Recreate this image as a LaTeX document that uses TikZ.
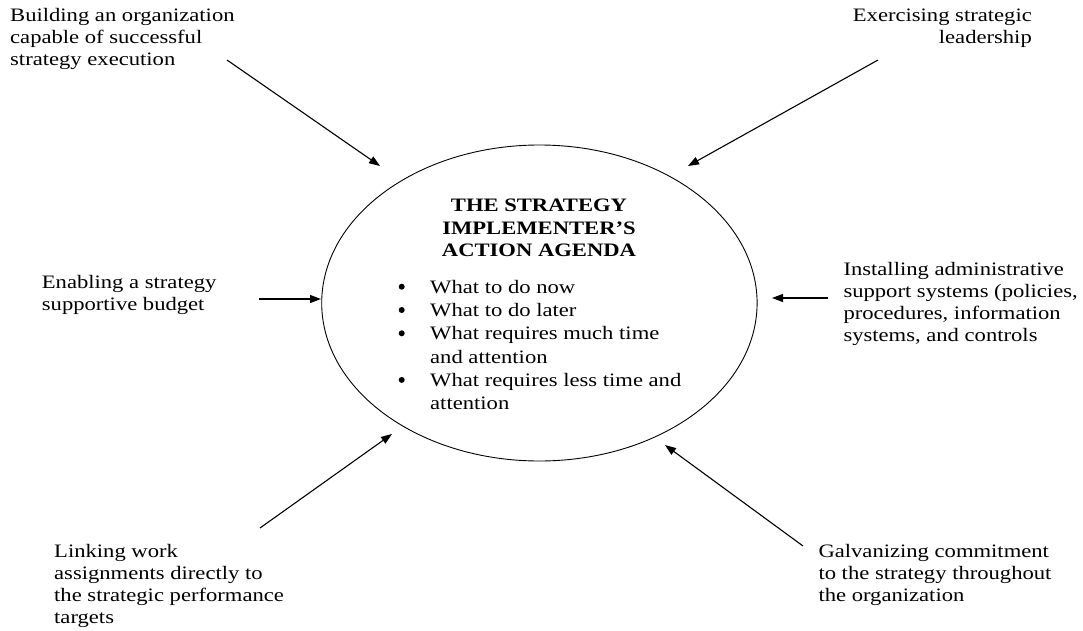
\documentclass[tikz,border=0pt]{standalone}
\usepackage{fontspec}
\setmainfont[FakeStretch=1.19]{Liberation Serif}
\usetikzlibrary{arrows.meta,shapes.geometric}
% multi-line blocks whose baseline is that of the first line
\newcommand\leftlines[1]{\begin{tabular}[t]{@{}l@{}}#1\end{tabular}}
\newcommand\rightlines[1]{\begin{tabular}[t]{@{}r@{}}#1\end{tabular}}
\newcommand\centrelines[1]{\begin{tabular}[t]{@{}c@{}}#1\end{tabular}}
\begin{document}
\begin{tikzpicture}[x=1pt,y=-1pt,
  outer text/.style={inner sep=0pt, font=\fontsize{19}{22}\selectfont},
  feed/.style={line width=1.1pt, -{Triangle[length=11pt,width=8pt]}},
  hub/.style={draw, ellipse, line width=0.9pt, inner sep=0pt,
              minimum width=435.4pt, minimum height=316pt},
  bulletdot/.style={fill=black}]
\useasboundingbox (0,0) rectangle (1083,631);

% central agenda
\node[hub] (agenda) at (539.4,303) {};
\node[inner sep=0pt, anchor=base, font=\bfseries\fontsize{19}{22.5}\selectfont]
  (title) at (539,211.7) {\centrelines{THE STRATEGY\\IMPLEMENTER’S\\ACTION AGENDA}};
\node[inner sep=0pt, anchor=base west, font=\fontsize{19}{23.3}\selectfont]
  (items) at (430,293.3) {\leftlines{What to do now\\What to do later\\
    What requires much time\\and attention\\What requires less time and\\attention}};
% list bullets, one per item (shifts are in upward page coordinates)
\foreach \row in {0,1,2,4}
  \fill[bulletdot] ([shift={(-28.3pt,{6.6pt-\row*23.3pt})}]items.base west) circle (3pt);

% surrounding tasks
\node[outer text, anchor=base west] (build) at (10,21.7)
  {\leftlines{Building an organization\\capable of successful\\strategy execution}};
\node[outer text, anchor=base east] (lead) at (1032,21.7)
  {\rightlines{Exercising strategic\\leadership}};
\node[outer text, anchor=base west] (budget) at (41.7,288)
  {\leftlines{Enabling a strategy\\supportive budget}};
\node[outer text, anchor=base west] (admin) at (843.3,275)
  {\leftlines{Installing administrative\\support systems (policies,\\procedures, information\\systems, and controls}};
\node[outer text, anchor=base west, font=\fontsize{19}{22.3}\selectfont] (link) at (54,557)
  {\leftlines{Linking work\\assignments directly to\\the strategic performance\\targets}};
\node[outer text, anchor=base west, font=\fontsize{19}{22.3}\selectfont] (galv) at (818.3,557)
  {\leftlines{Galvanizing commitment\\to the strategy throughout\\the organization}};

% arrow ends
\coordinate (buildT) at (227,60);   \coordinate (buildH) at (380,166);
\coordinate (leadT)  at (878,60);   \coordinate (leadH)  at (688,166);
\coordinate (budgT)  at (259,299);  \coordinate (budgH)  at (321,299);
\coordinate (adminT) at (828,298);  \coordinate (adminH) at (772,298);
\coordinate (linkT)  at (260,528);  \coordinate (linkH)  at (392,434);
\coordinate (galvT)  at (803,546);  \coordinate (galvH)  at (665,445);

\draw[feed] (buildT) -- (buildH);
\draw[feed] (leadT) -- (leadH);
\draw[feed] (budgT) -- (budgH);
\draw[feed] (adminT) -- (adminH);
\draw[feed] (linkT) -- (linkH);
\draw[feed] (galvT) -- (galvH);
\end{tikzpicture}
\end{document}
